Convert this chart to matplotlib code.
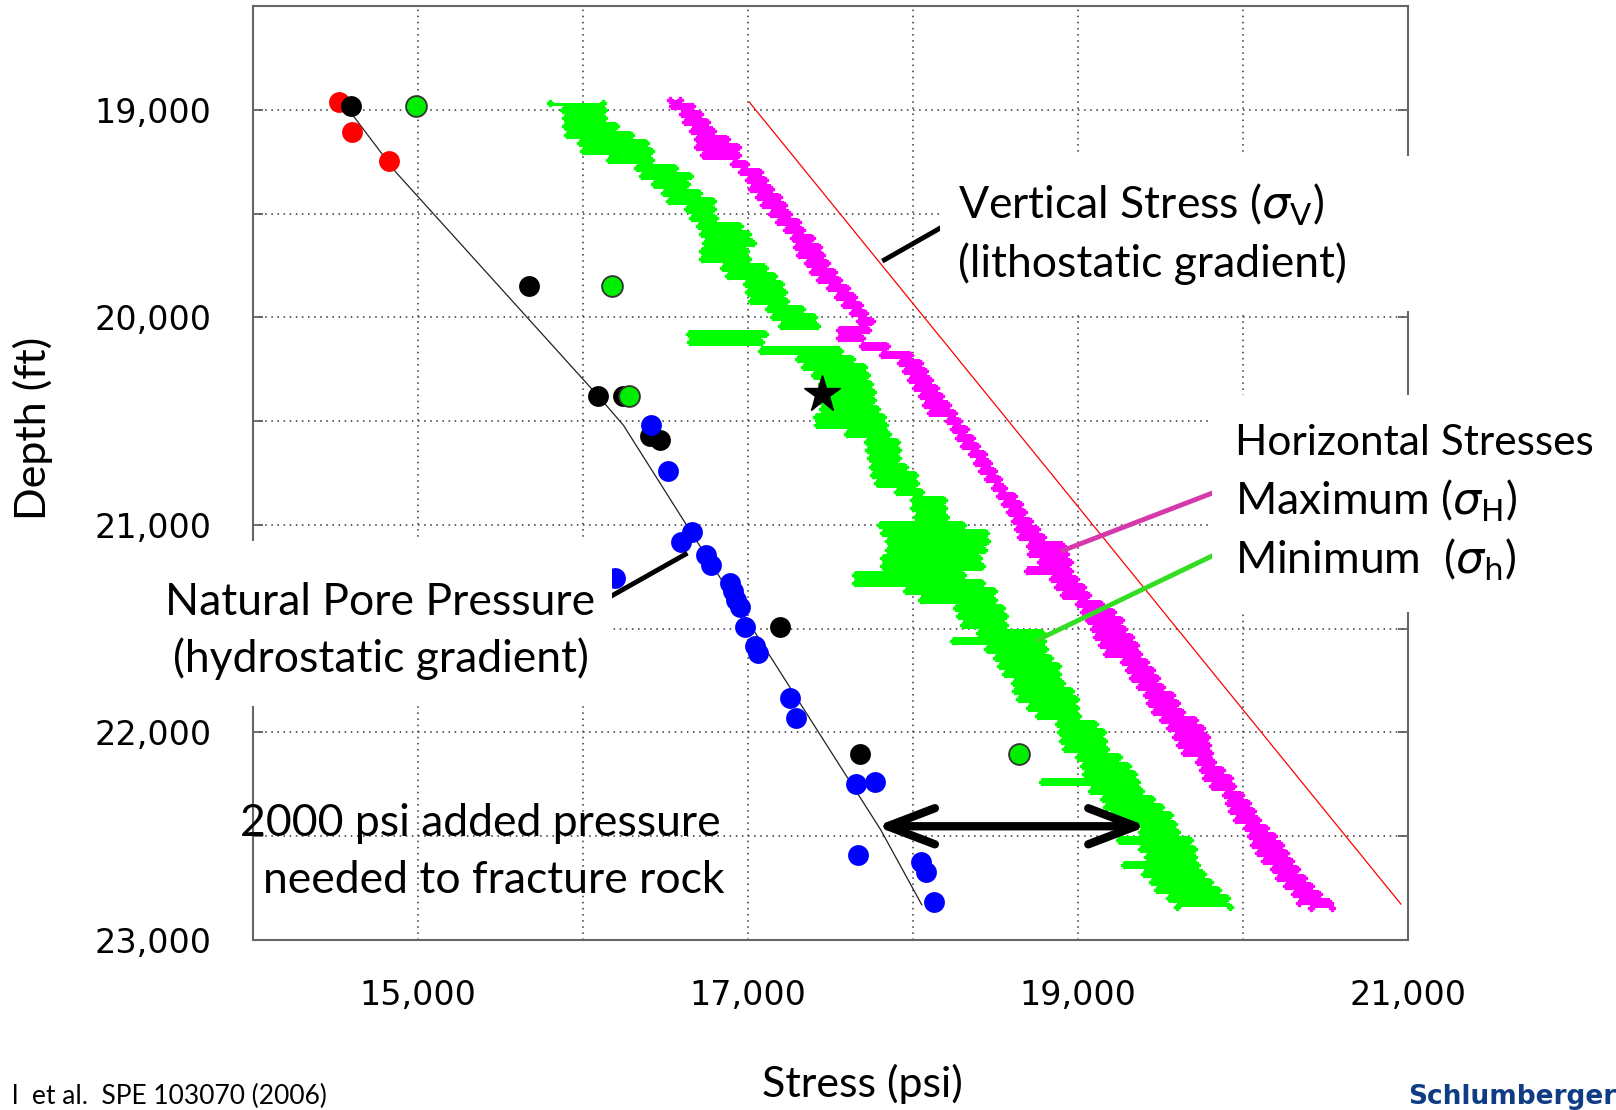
import matplotlib
matplotlib.use("Agg")
import matplotlib.pyplot as plt
from matplotlib.patches import Rectangle, FancyArrowPatch
from matplotlib.ticker import FuncFormatter, MultipleLocator

plt.rcParams['mathtext.fontset'] = 'dejavusans'

# pore pressure trend line (psi, ft)
pore_psi = [14580, 14865, 15627, 16093, 16245, 16619, 17805, 18053]
pore_depth = [19000, 19300, 19970, 20380, 20520, 20990, 22470, 22830]

# vertical stress line
sv_psi = [17007, 20957]
sv_depth = [18962, 22827]

# measured points
red_psi = [14520, 14600, 14823]
red_depth = [18962, 19106, 19245]
black_psi = [14593, 15670, 16093, 16245, 16408, 16468, 17194, 17678]
black_depth = [18981, 19851, 20380, 20380, 20572, 20591, 21490, 22106]
green_psi = [14986, 16178, 16280, 18640]
green_depth = [18981, 19851, 20380, 22106]
blue_psi = [16414, 16517, 16196, 16596, 16662, 16747, 16777, 16892, 16910, 16930,
            16952, 16982, 17043, 17060, 17254, 17290, 17654, 17768, 17666, 18047,
            18077, 18126]
blue_depth = [20519, 20740, 21255, 21082, 21034, 21144, 21192, 21279, 21320, 21360,
              21395, 21490, 21582, 21615, 21832, 21928, 22250, 22240, 22591, 22625,
              22673, 22817]
star_psi = [17450]
star_depth = [20370]

# minimum horizontal stress log (depth, left edge, right edge)
sh_depth = [18965, 19000, 19040, 19080, 19120, 19160, 19200, 19240, 19280, 19320,
            19360, 19400, 19440, 19480, 19520, 19560, 19600, 19640, 19680, 19720,
            19760, 19800, 19840, 19880, 19920, 19960, 20000, 20040, 20080, 20120,
            20160, 20200, 20240, 20280, 20320, 20360, 20400, 20440, 20480, 20520,
            20560, 20600, 20640, 20680, 20720, 20760, 20800, 20840, 20880, 20920,
            20960, 21000, 21040, 21080, 21120, 21160, 21200, 21240, 21280, 21320,
            21360, 21400, 21440, 21480, 21520, 21560, 21600, 21640, 21680, 21720,
            21760, 21800, 21840, 21880, 21920, 21960, 22000, 22040, 22080, 22120,
            22160, 22200, 22240, 22280, 22320, 22360, 22400, 22440, 22480, 22520,
            22560, 22600, 22640, 22680, 22720, 22760, 22800, 22840]
sh_left = [15800, 15880, 15890, 15890, 15900, 15980, 16000, 16160, 16330, 16360,
           16430, 16490, 16520, 16630, 16660, 16700, 16720, 16740, 16720, 16720,
           16850, 16880, 16990, 17000, 17020, 17120, 17150, 17200, 16640, 16650,
           17080, 17300, 17340, 17400, 17440, 17420, 17430, 17450, 17410, 17420,
           17600, 17720, 17730, 17740, 17750, 17760, 17780, 17900, 18000, 18000,
           18020, 17800, 17820, 17850, 17850, 17820, 17820, 17650, 17650, 17960,
           18050, 18260, 18280, 18300, 18400, 18240, 18450, 18500, 18530, 18560,
           18610, 18620, 18640, 18700, 18760, 18880, 18890, 18900, 18920, 19000,
           19030, 19040, 18780, 19080, 19150, 19170, 19200, 19300, 19380, 19250,
           19380, 19420, 19280, 19400, 19450, 19480, 19550, 19600]
sh_right = [16120, 16130, 16130, 16200, 16290, 16380, 16410, 16410, 16560, 16650,
            16630, 16700, 16790, 16790, 16800, 16950, 17000, 17030, 16990, 17000,
            17100, 17160, 17200, 17220, 17230, 17330, 17400, 17420, 17100, 17080,
            17560, 17630, 17700, 17720, 17740, 17760, 17760, 17780, 17820, 17830,
            17850, 17900, 17910, 17910, 17950, 18010, 18020, 18050, 18190, 18190,
            18200, 18300, 18440, 18450, 18430, 18400, 18420, 18300, 18420, 18490,
            18490, 18540, 18560, 18560, 18780, 18790, 18800, 18830, 18880, 18880,
            18900, 18960, 18990, 18990, 19000, 19100, 19150, 19160, 19170, 19250,
            19300, 19340, 19360, 19380, 19450, 19500, 19560, 19580, 19600, 19680,
            19700, 19700, 19720, 19760, 19800, 19850, 19900, 19920]

# maximum horizontal stress log
sH_depth = [18955, 18980, 19020, 19060, 19100, 19140, 19180, 19220, 19260, 19300,
            19340, 19380, 19420, 19460, 19500, 19540, 19580, 19620, 19660, 19700,
            19740, 19780, 19820, 19860, 19900, 19940, 19980, 20020, 20060, 20100,
            20140, 20180, 20220, 20260, 20300, 20340, 20380, 20420, 20460, 20500,
            20540, 20580, 20620, 20660, 20700, 20740, 20780, 20820, 20860, 20900,
            20940, 20980, 21020, 21060, 21100, 21140, 21180, 21220, 21260, 21300,
            21340, 21380, 21420, 21460, 21500, 21540, 21580, 21620, 21660, 21700,
            21740, 21780, 21820, 21860, 21900, 21940, 21980, 22020, 22060, 22100,
            22140, 22180, 22220, 22260, 22300, 22340, 22380, 22420, 22460, 22500,
            22540, 22580, 22620, 22660, 22700, 22740, 22780, 22820, 22845]
sH_left = [16530, 16540, 16600, 16620, 16660, 16690, 16690, 16730, 16910, 16960,
           17000, 17020, 17060, 17090, 17140, 17180, 17230, 17270, 17290, 17310,
           17360, 17390, 17430, 17490, 17540, 17580, 17630, 17670, 17550, 17550,
           17690, 17810, 17920, 17950, 17980, 18010, 18050, 18070, 18100, 18210,
           18240, 18270, 18300, 18350, 18380, 18410, 18450, 18490, 18520, 18550,
           18580, 18610, 18630, 18650, 18700, 18710, 18770, 18690, 18840, 18870,
           18910, 19000, 19030, 19060, 19090, 19110, 19140, 19170, 19270, 19300,
           19330, 19370, 19410, 19430, 19460, 19510, 19550, 19590, 19610, 19640,
           19730, 19750, 19770, 19810, 19890, 19910, 19930, 19960, 20020, 20040,
           20060, 20090, 20130, 20180, 20210, 20260, 20310, 20340, 20410]
sH_right = [16590, 16660, 16710, 16750, 16790, 16870, 16940, 16940, 16990, 17070,
            17100, 17140, 17190, 17220, 17250, 17300, 17330, 17390, 17430, 17450,
            17480, 17520, 17550, 17600, 17640, 17680, 17710, 17750, 17730, 17690,
            17840, 17980, 18040, 18070, 18100, 18140, 18170, 18210, 18250, 18280,
            18320, 18360, 18390, 18430, 18460, 18490, 18520, 18550, 18610, 18650,
            18670, 18710, 18750, 18790, 18910, 18930, 18950, 18950, 18990, 19030,
            19060, 19140, 19210, 19260, 19280, 19320, 19350, 19370, 19410, 19450,
            19480, 19510, 19570, 19600, 19630, 19710, 19750, 19780, 19790, 19800,
            19820, 19870, 19920, 19940, 19990, 20030, 20060, 20090, 20140, 20190,
            20230, 20260, 20290, 20330, 20370, 20410, 20460, 20530, 20540]

# annotation pointers (psi, depth)
arrow_psi = [17759, 19436]
arrow_depth = 22452
pointer_pore = ([16149, 16633], [21353, 21136])
pointer_sv = ([17814, 18207], [19729, 19551])
pointer_max = ([18897, 19829], [21127, 20842])
pointer_min = ([18740, 19872], [21560, 21127])

W, H = 1616, 1110


def fx(x):
    return x / W


def fy(y):
    return 1 - y / H


fig = plt.figure(figsize=(W / 100, H / 100), dpi=100)
ax = fig.add_axes([253 / W, 1 - 940 / H, 1155 / W, 934 / H])

ax.set_xlim(14000, 21000)
ax.set_ylim(23000, 18500)
ax.xaxis.set_major_locator(MultipleLocator(1000))
ax.yaxis.set_major_locator(MultipleLocator(500))
ax.xaxis.set_major_formatter(FuncFormatter(
    lambda v, p: f"{int(v):,}" if int(v) % 2000 == 1000 else ""))
ax.yaxis.set_major_formatter(FuncFormatter(
    lambda v, p: f"{int(v):,}" if int(v) % 1000 == 0 else ""))
ax.grid(True, color='#333333', linestyle=(0, (1, 3)), linewidth=1.1)
ax.tick_params(axis='y', direction='in', length=7, width=1.2, color='#555555',
               labelsize=24, right=True, pad=30)
ax.tick_params(axis='x', length=0, labelsize=24, pad=28)
for s in ax.spines.values():
    s.set_color('#666666')
    s.set_linewidth(1.5)

# stress logs
ax.fill_betweenx(sh_depth, sh_left, sh_right, step='mid', color='#00ff00', lw=0, zorder=2)
ax.plot(sh_left, sh_depth, ls='none', marker='P', ms=4, color='#00ff00', zorder=2)
ax.plot(sh_right, sh_depth, ls='none', marker='P', ms=4, color='#00ff00', zorder=2)
ax.fill_betweenx(sH_depth, sH_left, sH_right, step='mid', color='#ff00ff', lw=0, zorder=2)
ax.plot(sH_left, sH_depth, ls='none', marker='P', ms=4, color='#ff00ff', zorder=2)
ax.plot(sH_right, sH_depth, ls='none', marker='P', ms=4, color='#ff00ff', zorder=2)

ax.plot(sv_psi, sv_depth, color='red', lw=0.9, zorder=2)
ax.plot(pore_psi, pore_depth, color='#222222', lw=0.9, zorder=2)

ax.plot(red_psi, red_depth, 'o', ms=15, color='red', mec='none', zorder=3)
ax.plot(black_psi, black_depth, 'o', ms=15, color='black', mec='none', zorder=3)
ax.plot(green_psi, green_depth, 'o', ms=15, color='#00ee00', mec='#333333', mew=1.3, zorder=4)
ax.plot(blue_psi, blue_depth, 'o', ms=15, color='#0000ff', mec='none', zorder=3)
ax.plot(star_psi, star_depth, '*', ms=28, color='black', zorder=5)

ax.plot(*pointer_pore, color='black', lw=3.5, solid_capstyle='butt', zorder=6)
ax.plot(*pointer_sv, color='black', lw=3.5, solid_capstyle='butt', zorder=6)
ax.plot(*pointer_max, color='#d63aaa', lw=3.5, solid_capstyle='butt', zorder=6)
ax.plot(*pointer_min, color='#33dd22', lw=3.5, solid_capstyle='butt', zorder=6)

arrow = FancyArrowPatch((arrow_psi[0], arrow_depth), (arrow_psi[1], arrow_depth),
                        arrowstyle='<->,head_length=3.4,head_width=1.3',
                        mutation_scale=10, lw=6, color='black',
                        capstyle='round', joinstyle='round', zorder=6)
ax.add_patch(arrow)

# white boxes that hide part of the frame
for x0, y0, x1, y1 in [(160, 541, 612, 706), (940, 156, 1430, 311), (1212, 395, 1616, 612)]:
    fig.add_artist(Rectangle((fx(x0), fy(y1)), (x1 - x0) / W, (y1 - y0) / H,
                             transform=fig.transFigure, facecolor='white',
                             edgecolor='none', zorder=2))

tf = dict(fontsize=32, family='Lato', color='black', zorder=3)
fig.text(fx(958), fy(219), r'Vertical Stress ($\sigma_{\mathrm{V}}$)', ha='left', va='baseline', **tf)
fig.text(fx(958), fy(277), '(lithostatic gradient)', ha='left', va='baseline', **tf)
fig.text(fx(1235), fy(455), 'Horizontal Stresses', ha='left', va='baseline',
         fontsize=30.5, family='Lato', zorder=3)
fig.text(fx(1235), fy(515), r'Maximum ($\sigma_{\mathrm{H}}$)', ha='left', va='baseline', **tf)
fig.text(fx(1235), fy(574), r'Minimum  ($\sigma_{\mathrm{h}}$)', ha='left', va='baseline', **tf)
fig.text(fx(380), fy(615), 'Natural Pore Pressure', ha='center', va='baseline', **tf)
fig.text(fx(381), fy(672), '(hydrostatic gradient)', ha='center', va='baseline', **tf)
fig.text(fx(480), fy(836), '2000 psi added pressure', ha='center', va='baseline', **tf)
fig.text(fx(494), fy(893), 'needed to fracture rock', ha='center', va='baseline', **tf)

fig.text(fx(862), fy(1084), 'Stress (psi)', ha='center', va='center', fontsize=31, family='Lato')
fig.text(fx(33), fy(428), 'Depth (ft)', ha='center', va='center', rotation=90,
         fontsize=31, family='Lato')

fig.text(fx(12), fy(1104), 'l  et al.  SPE 103070 (2006)', ha='left', va='baseline',
         fontsize=19, family='Lato')
fig.text(fx(1408), fy(1104), 'Schlumberger', ha='left', va='baseline', fontsize=19,
         family='DejaVu Sans', weight='bold', color='#0f3d83')

fig.savefig('out.png', dpi=100)
